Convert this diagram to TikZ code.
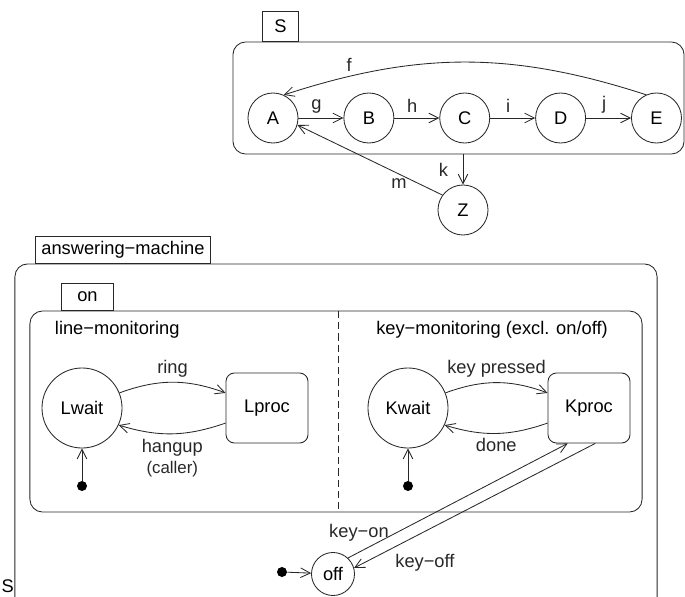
\documentclass[tikz,border=0pt]{standalone}
\usepackage{fontspec}
\setmainfont{Liberation Sans}
\usepackage{tikz}
\usetikzlibrary{arrows.meta, positioning}
\definecolor{smline}{RGB}{40,40,40}
\tikzset{
  %% ---- states ----
  state/.style    = {circle, draw=smline, line width=0.6pt,
                     minimum size=#1, inner sep=0pt},
  state/.default  = 1.25cm,
  procbox/.style  = {rectangle, rounded corners=6pt, draw=smline,
                     line width=0.6pt, minimum width=2.05cm,
                     minimum height=1.75cm},
  initdot/.style  = {circle, fill=black, inner sep=0pt, minimum size=0.25cm},
  %% ---- containers ----
  region/.style   = {rectangle, rounded corners=9pt, draw=smline,
                     line width=0.6pt},
  tab/.style      = {rectangle, draw=smline, line width=0.6pt,
                     anchor=south west, minimum height=#1, inner sep=2pt},
  tab/.default    = 0.675cm,
  %% ---- arrows ----
  trans/.style    = {-{Straight Barb[length=2.4mm, width=2.4mm]},
                     line width=0.6pt, color=smline},
}

\begin{document}
\begin{tikzpicture}[x=0.025cm, y=-0.025cm, font=\fontsize{13}{15}\selectfont]
  \useasboundingbox (0,0) rectangle (685,597);

  %% ---- hierarchy S ----
  \node[region, minimum width=11.275cm, minimum height=2.8cm] (sbox) at (458.5,98) {};
  \node[tab=0.75cm, minimum width=0.9cm] (stab) at (262,42) {S};

  \node[state] (A) at (273,118) {A};
  \node[state, right=1.125cm of A] (B) {B};
  \node[state, right=1.125cm of B] (C) {C};
  \node[state, right=1.125cm of C] (D) {D};
  \node[state, right=1.125cm of D] (E) {E};
  \node[state] (Z) at (463,210) {Z};

  \draw[trans] (A) -- node[pos=0.4, above] {g} (B);
  \draw[trans] (B) -- node[pos=0.4, above] {h} (C);
  \draw[trans] (C) -- node[pos=0.4, above] {i} (D);
  \draw[trans] (D) -- node[pos=0.4, above] {j} (E);
  \draw[trans] (E.114) to[bend right=18] node[pos=0.83, above] {f} (A.65);
  \draw[trans] (Z |- sbox.south) -- node[left=7pt] {k} (Z);
  \draw[trans] (Z.144) -- node[pos=0.3, below] {m} (A.-16);

  %% ---- answering machine ----
  \node[region, minimum width=16.05cm, minimum height=8.9cm] (machine) at (336,442) {};
  \node[tab, minimum width=4.375cm] (mtab) at (35,264) {answering−machine};
  \node[region, minimum width=15.3cm, minimum height=5.025cm] (onbox) at (336,411.5) {};
  \node[tab, minimum width=1.3cm] (ontab) at (61,311) {on};
  \draw[smline, line width=0.6pt, dash pattern=on 5pt off 3pt] (338,311) -- (338,512);

  % line monitoring
  \node[anchor=west] (linelbl) at (50,330) {line−monitoring};
  \node[state=2cm] (Lwait) at (82,408) {Lwait};
  \node[procbox] (Lproc) at (267,408) {Lproc};
  \node[initdot] (Linit) at (82,486) {};
  \draw[trans] (Linit) -- (Lwait);
  \draw[trans] (Lwait.22) to[bend left=20] node[above] {ring} (Lproc.160);
  \draw[trans] (Lproc.200) to[bend left=18]
    node[below, align=center] {hangup\\{\fontsize{12}{14}\selectfont (caller)}} (Lwait.-25);

  % key monitoring
  \node (keylbl) at (492,330) {key−monitoring (excl. on/off)};
  \node[state=2cm] (Kwait) at (408,408) {Kwait};
  \node[procbox] (Kproc) at (589,408) {Kproc};
  \node[initdot] (Kinit) at (408,486) {};
  \draw[trans] (Kinit) -- (Kwait);
  \draw[trans] (Kwait.22) to[bend left=20] node[above] {key pressed} (Kproc.160);
  \draw[trans] (Kproc.200) to[bend left=18] node[below] {done} (Kwait.-25);

  % off
  \node[state=1.075cm] (off) at (333,574) {off};
  \node[initdot] (Oinit) at (282,572) {};
  \draw[trans] (Oinit) -- (off);
  \draw[trans] (off.47) -- node[pos=0.05, above=4pt] {key−on} (Kproc.239);
  \draw[trans] (Kproc.280) -- node[pos=0.85, below right] {key−off} (off.16);

  \node[anchor=south west, inner sep=1pt] (cutS) at (0,594) {S};
\end{tikzpicture}
\end{document}
